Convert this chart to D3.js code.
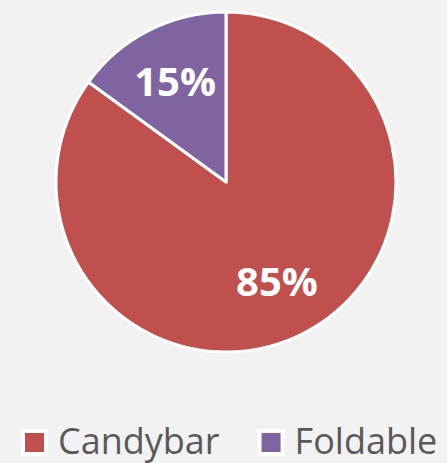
<!DOCTYPE html>
<html>
<head>
<meta charset="utf-8">
<script src="https://cdn.jsdelivr.net/npm/d3@7"></script>
<style>
  html, body { margin: 0; padding: 0; background: #f2f2f2; }
  svg { display: block; }
</style>
</head>
<body>
<div id="chart"></div>
<script>
const categories = ['Candybar', 'Foldable'];
const values = [85, 15];
const colors = ['#c0504d', '#8064a2'];

const width = 447, height = 463;
const cx = 226, cy = 182, radius = 170;

const svg = d3.select('#chart').append('svg')
    .attr('width', width).attr('height', height);

const data = categories.map((c, i) => ({name: c, value: values[i], color: colors[i]}));
const pie = d3.pie().sort(null).value(d => d.value);
const arc = d3.arc().innerRadius(0).outerRadius(radius);
const labelArc = d3.arc().innerRadius(radius * 0.66).outerRadius(radius * 0.66);
const total = d3.sum(values);

const g = svg.append('g').attr('transform', 'translate(' + cx + ',' + cy + ')');
const arcs = pie(data);

g.selectAll('path.slice')
    .data(arcs)
    .enter().append('path')
    .attr('class', 'slice')
    .attr('d', arc)
    .attr('fill', d => d.data.color)
    .attr('stroke', '#fff')
    .attr('stroke-width', 3)
    .attr('stroke-linejoin', 'round');

g.selectAll('text.label')
    .data(arcs)
    .enter().append('text')
    .attr('class', 'label')
    .attr('transform', d => 'translate(' + labelArc.centroid(d) + ')')
    .attr('text-anchor', 'middle')
    .attr('dy', '0.36em')
    .attr('fill', '#fff')
    .style('font-family', '"Open Sans", sans-serif')
    .style('font-weight', 'bold')
    .style('font-size', '40px')
    .text(d => Math.round(d.data.value / total * 100) + '%');

// legend
const legend = svg.append('g').attr('transform', 'translate(23,454)');
let x = 0;
data.forEach(d => {
    const item = legend.append('g').attr('transform', 'translate(' + x + ',0)');
    item.append('rect')
        .attr('x', 0).attr('y', -23)
        .attr('width', 23).attr('height', 23)
        .attr('fill', d.color)
        .attr('stroke', '#fff').attr('stroke-width', 4);
    const t = item.append('text')
        .attr('x', 35).attr('y', 0)
        .attr('fill', '#595959')
        .style('font-family', '"Open Sans", sans-serif')
        .style('font-size', '36px')
        .text(d.name);
    x += 35 + t.node().getComputedTextLength() + 40;
});
</script>
</body>
</html>
